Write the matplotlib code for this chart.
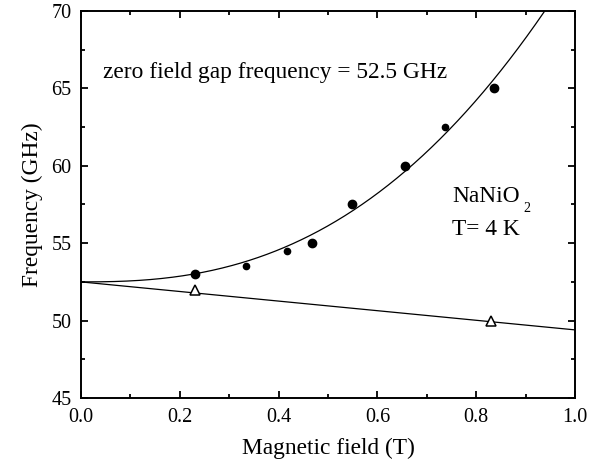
import numpy as np
import matplotlib
matplotlib.use("Agg")
import matplotlib.pyplot as plt
from matplotlib.ticker import MultipleLocator

plt.rcParams['font.family'] = ['Liberation Serif', 'DejaVu Serif']

# Upper resonance branch (filled circles); larger and smaller symbols
field_up_large = [0.231, 0.468, 0.548, 0.655, 0.837]
freq_up_large = [53.0, 55.0, 57.5, 60.0, 65.0]
field_up_small = [0.335, 0.416, 0.737]
freq_up_small = [53.5, 54.5, 62.5]

# Lower resonance branch (open triangles)
field_low = [0.231, 0.829]
freq_low = [52.0, 50.0]

# Model curves
f0 = 52.5            # zero field gap (GHz)
up_coef, up_pow = 20.5, 2.5
low_slope = -3.1     # GHz/T

fs = 16.8

fig = plt.figure(figsize=(6.03, 4.70), dpi=100)
ax = fig.add_axes([0.1343, 0.1532, 0.8193, 0.8234])

B = np.linspace(0, 1.0, 400)
ax.plot(B, f0 + up_coef * B ** up_pow, color='black', lw=0.9)
ax.plot(B, f0 + low_slope * B, color='black', lw=0.9)

ax.plot(field_up_large, freq_up_large, 'o', color='black', ms=6.0, ls='none')
ax.plot(field_up_small, freq_up_small, 'o', color='black', ms=4.5, ls='none')
ax.plot(field_low, freq_low, '^', mfc='white', mec='black', mew=1.1, ms=6.5, ls='none')

ax.set_xlim(0, 1.0)
ax.set_ylim(45, 70)
ax.xaxis.set_major_locator(MultipleLocator(0.2))
ax.xaxis.set_minor_locator(MultipleLocator(0.1))
ax.yaxis.set_major_locator(MultipleLocator(5))
ax.yaxis.set_minor_locator(MultipleLocator(2.5))
ax.set_xticks(np.arange(0, 1.01, 0.2))
ax.set_xticklabels(['0.0', '0.2', '0.4', '0.6', '0.8', '1.0'])
ax.tick_params(which='both', direction='in', top=True, right=True, width=1.3, labelsize=14.5)
ax.tick_params(which='major', length=5, pad=7)
ax.tick_params(which='minor', length=3)
for s in ax.spines.values():
    s.set_linewidth(1.4)

ax.set_xlabel('Magnetic field (T)', fontsize=fs, labelpad=8)
ax.set_ylabel('Frequency (GHz)', fontsize=fs, labelpad=6)

ax.text(0.045, 65.65, 'zero field gap frequency = 52.5 GHz', fontsize=fs, va='baseline')
ax.text(0.751, 57.66, 'NaNiO', fontsize=fs, va='baseline')
ax.text(0.895, 57.0, '2', fontsize=fs * 0.6, va='baseline')
ax.text(0.751, 55.5, 'T= 4 K', fontsize=fs, va='baseline')

fig.savefig('out.png', dpi=100)
